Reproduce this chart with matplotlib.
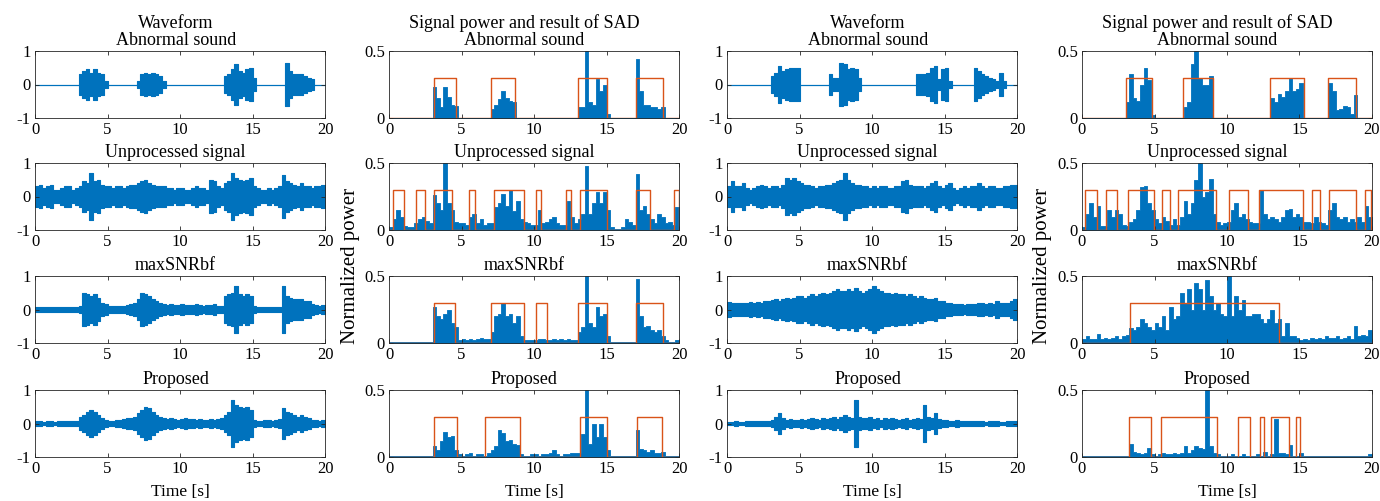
import matplotlib

matplotlib.use("Agg")

import matplotlib.pyplot as plt
import numpy as np

plt.rcParams["font.family"] = ["Liberation Serif", "DejaVu Serif"]
plt.rcParams["axes.unicode_minus"] = False

BLUE = "#0072BD"
ORANGE = "#D95319"
BIN = 0.25  # seconds per value below, 80 values per 20 s

ROW_TITLES = ["Abnormal sound", "Unprocessed signal", "maxSNRbf", "Proposed"]
X_TICKS = [0, 5, 10, 15, 20]
X_TICK_LABELS = ["0", "5", "10", "15", "20"]
WAVE_TICKS = [-1, 0, 1]
WAVE_TICK_LABELS = ["-1", "0", "1"]
POW_TICKS = [0, 0.5]
POW_TICK_LABELS = ["0", "0.5"]
SAD_LEVEL = 0.3

# ---- sound A (columns 1 and 2): waveform envelope, power peaks, SAD intervals
A_WAVE_ABN = [
    0, 0, 0, 0, 0, 0, 0, 0, 0, 0, 0, 0, 0.3, 0.4, 0.45, 0.35, 0.45, 0.35, 0.3, 0.1,
    0, 0, 0, 0, 0, 0, 0, 0, 0.1, 0.3, 0.35, 0.3, 0.35, 0.3, 0.25, 0.1, 0, 0, 0, 0,
    0, 0, 0, 0, 0, 0, 0, 0, 0, 0, 0, 0, 0.25, 0.3, 0.45, 0.6, 0.4, 0.35, 0.45, 0.5,
    0.2, 0, 0, 0, 0, 0, 0, 0, 0, 0.65, 0.4, 0.3, 0.3, 0.3, 0.25, 0.2, 0.15, 0, 0, 0,
]
A_POW_ABN = [
    0, 0, 0, 0, 0, 0, 0, 0, 0, 0, 0, 0, 0.23, 0.15, 0.08, 0.23, 0.16, 0.1, 0.09, 0,
    0, 0, 0, 0, 0, 0, 0, 0, 0.07, 0.1, 0.14, 0.2, 0.15, 0.13, 0.12, 0, 0, 0, 0, 0,
    0, 0, 0, 0, 0, 0, 0, 0, 0, 0, 0, 0, 0.08, 0.08, 0.5, 0.12, 0.1, 0.29, 0.2, 0.25,
    0.03, 0, 0, 0, 0, 0, 0, 0, 0.44, 0.2, 0.1, 0.1, 0.08, 0.08, 0.07, 0.08, 0, 0, 0, 0,
]
A_SAD_ABN = [(3.1, 4.6), (7.0, 8.7), (13.0, 15.05), (17.05, 18.9)]

A_WAVE_UNP = [
    0.3, 0.35, 0.25, 0.3, 0.35, 0.2, 0.2, 0.25, 0.3, 0.3, 0.2, 0.25, 0.3, 0.45, 0.4, 0.7, 0.45, 0.5, 0.35, 0.3,
    0.3, 0.25, 0.3, 0.3, 0.25, 0.3, 0.35, 0.35, 0.4, 0.45, 0.5, 0.4, 0.35, 0.3, 0.3, 0.3, 0.25, 0.25, 0.2, 0.25,
    0.25, 0.2, 0.2, 0.25, 0.3, 0.25, 0.25, 0.2, 0.5, 0.45, 0.3, 0.25, 0.4, 0.45, 0.7, 0.55, 0.5, 0.45, 0.5, 0.55,
    0.3, 0.25, 0.2, 0.2, 0.25, 0.2, 0.25, 0.3, 0.65, 0.45, 0.4, 0.35, 0.3, 0.4, 0.3, 0.3, 0.25, 0.3, 0.3, 0.35,
]
A_POW_UNP = [
    0.02, 0.08, 0.15, 0.1, 0.03, 0.02, 0.02, 0.05, 0.08, 0.1, 0.07, 0.05, 0.26, 0.2, 0.15, 0.5, 0.2, 0.15, 0.06, 0.05,
    0.05, 0.04, 0.1, 0.12, 0.05, 0.08, 0.04, 0.05, 0.05, 0.17, 0.2, 0.27, 0.18, 0.3, 0.14, 0.22, 0.08, 0.06, 0.05, 0.04,
    0.04, 0.15, 0.05, 0.06, 0.08, 0.1, 0.05, 0.04, 0.04, 0.22, 0.1, 0.05, 0.08, 0.12, 0.48, 0.12, 0.2, 0.28, 0.2, 0.28,
    0.15, 0.02, 0.01, 0.01, 0.02, 0.08, 0.06, 0.04, 0.42, 0.15, 0.18, 0.12, 0.08, 0.05, 0.12, 0.1, 0.05, 0.06, 0.04, 0.17,
]
A_SAD_UNP = [(0.28, 1.03), (1.84, 2.46), (3.08, 4.37), (5.52, 5.95), (7.24, 9.31),
             (10.16, 10.5), (12.23, 12.57), (13.15, 15.06), (17.06, 17.98), (19.63, 20.0)]

A_WAVE_MAX = [
    0.08, 0.08, 0.08, 0.08, 0.07, 0.08, 0.07, 0.08, 0.08, 0.07, 0.08, 0.08, 0.1, 0.5, 0.45, 0.4, 0.45, 0.35, 0.2, 0.15,
    0.1, 0.1, 0.1, 0.1, 0.1, 0.12, 0.15, 0.2, 0.3, 0.5, 0.45, 0.4, 0.3, 0.25, 0.2, 0.15, 0.12, 0.15, 0.12, 0.12,
    0.15, 0.12, 0.12, 0.12, 0.15, 0.12, 0.1, 0.12, 0.12, 0.15, 0.1, 0.1, 0.4, 0.45, 0.5, 0.7, 0.45, 0.4, 0.45, 0.4,
    0.1, 0.07, 0.07, 0.07, 0.07, 0.07, 0.07, 0.08, 0.7, 0.4, 0.35, 0.3, 0.3, 0.3, 0.25, 0.25, 0.15, 0.12, 0.1, 0.12,
]
A_POW_MAX = [
    0.01, 0.01, 0.01, 0.01, 0.01, 0.01, 0.01, 0.01, 0.01, 0.01, 0.01, 0.01, 0.27, 0.2, 0.18, 0.22, 0.25, 0.15, 0.12, 0.02,
    0.03, 0.02, 0.03, 0.02, 0.03, 0.04, 0.03, 0.03, 0.08, 0.2, 0.22, 0.3, 0.2, 0.22, 0.15, 0.2, 0.05, 0.02, 0.02, 0.02,
    0.02, 0.03, 0.03, 0.02, 0.02, 0.03, 0.02, 0.03, 0.02, 0.03, 0.02, 0.02, 0.08, 0.12, 0.5, 0.15, 0.12, 0.27, 0.2, 0.22,
    0.05, 0.005, 0.005, 0.005, 0.005, 0.005, 0.005, 0.005, 0.48, 0.2, 0.12, 0.13, 0.1, 0.08, 0.1, 0.05, 0.02, 0.01, 0.01, 0.02,
]
A_SAD_MAX = [(3.08, 4.57), (7.0, 9.31), (10.14, 10.9), (13.06, 15.06), (17.06, 18.9)]

A_WAVE_PROP = [
    0.06, 0.06, 0.05, 0.06, 0.06, 0.05, 0.06, 0.06, 0.06, 0.07, 0.06, 0.06, 0.2, 0.25, 0.35, 0.4, 0.35, 0.25, 0.15, 0.1,
    0.08, 0.08, 0.1, 0.1, 0.12, 0.15, 0.15, 0.2, 0.3, 0.4, 0.5, 0.45, 0.35, 0.25, 0.2, 0.15, 0.12, 0.15, 0.12, 0.1,
    0.12, 0.15, 0.12, 0.12, 0.1, 0.12, 0.1, 0.1, 0.12, 0.1, 0.12, 0.15, 0.25, 0.35, 0.7, 0.55, 0.5, 0.45, 0.5, 0.4,
    0.1, 0.08, 0.08, 0.1, 0.1, 0.08, 0.1, 0.12, 0.45, 0.35, 0.3, 0.25, 0.2, 0.25, 0.2, 0.15, 0.1, 0.1, 0.08, 0.1,
]
A_POW_PROP = [
    0.005, 0.005, 0.005, 0.005, 0.005, 0.005, 0.005, 0.005, 0.005, 0.005, 0.005, 0.005, 0.08, 0.05, 0.12, 0.19, 0.15, 0.16, 0.05, 0.02,
    0.01, 0.02, 0.03, 0.01, 0.02, 0.02, 0.01, 0.03, 0.05, 0.08, 0.2, 0.18, 0.12, 0.13, 0.1, 0.09, 0.02, 0.01, 0.01, 0.02,
    0.02, 0.01, 0.02, 0.02, 0.03, 0.05, 0.02, 0.01, 0.02, 0.02, 0.03, 0.03, 0.03, 0.17, 0.5, 0.1, 0.25, 0.15, 0.25, 0.15,
    0.05, 0.01, 0.005, 0.005, 0.005, 0.005, 0.005, 0.005, 0.2, 0.06, 0.05, 0.04, 0.05, 0.03, 0.03, 0.04, 0.01, 0.01, 0.01, 0.01,
]
A_SAD_PROP = [(3.08, 4.71), (6.64, 9.03), (13.15, 15.03), (17.08, 18.8)]

# ---- sound B (columns 3 and 4)
B_WAVE_ABN = [
    0, 0, 0, 0, 0, 0, 0, 0, 0, 0, 0, 0, 0.25, 0.35, 0.55, 0.4, 0.45, 0.5, 0.5, 0.5,
    0, 0, 0, 0, 0, 0, 0, 0, 0.3, 0.2, 0.2, 0.65, 0.6, 0.45, 0.5, 0.45, 0.2, 0, 0, 0,
    0, 0, 0, 0, 0, 0, 0, 0, 0, 0, 0, 0, 0.3, 0.3, 0.3, 0.35, 0.5, 0.55, 0.15, 0.45,
    0.5, 0.1, 0, 0, 0, 0, 0, 0, 0.5, 0.4, 0.3, 0.25, 0.2, 0.15, 0.1, 0.35, 0.1, 0, 0, 0,
]
B_POW_ABN = [
    0, 0, 0, 0, 0, 0, 0, 0, 0, 0, 0, 0, 0.12, 0.33, 0.15, 0.13, 0.25, 0.37, 0.28, 0.02,
    0, 0, 0, 0, 0, 0, 0, 0, 0.08, 0.12, 0.4, 0.5, 0.3, 0.25, 0.25, 0.31, 0, 0, 0, 0,
    0, 0, 0, 0, 0, 0, 0, 0, 0, 0, 0, 0, 0.15, 0.12, 0.18, 0.16, 0.2, 0.3, 0.2, 0.22,
    0.26, 0, 0, 0, 0, 0, 0, 0, 0.26, 0.2, 0.06, 0.07, 0.09, 0.08, 0.03, 0.17, 0, 0, 0, 0,
]
B_SAD_ABN = [(3.05, 4.8), (6.95, 9.0), (13.0, 15.3), (17.0, 18.9)]

B_WAVE_UNP = [
    0.3, 0.45, 0.3, 0.3, 0.4, 0.25, 0.2, 0.25, 0.3, 0.35, 0.3, 0.25, 0.3, 0.3, 0.25, 0.35, 0.55, 0.5, 0.55, 0.45,
    0.4, 0.35, 0.35, 0.3, 0.25, 0.3, 0.3, 0.35, 0.35, 0.4, 0.45, 0.5, 0.7, 0.5, 0.4, 0.35, 0.35, 0.3, 0.3, 0.25,
    0.3, 0.25, 0.3, 0.3, 0.25, 0.25, 0.3, 0.3, 0.45, 0.5, 0.35, 0.3, 0.3, 0.3, 0.25, 0.3, 0.4, 0.45, 0.3, 0.25,
    0.35, 0.4, 0.25, 0.2, 0.25, 0.3, 0.25, 0.3, 0.3, 0.4, 0.3, 0.25, 0.3, 0.3, 0.25, 0.25, 0.3, 0.3, 0.35, 0.35,
]
B_POW_UNP = [
    0.02, 0.12, 0.2, 0.1, 0.18, 0.03, 0.03, 0.15, 0.1, 0.15, 0.12, 0.04, 0.03, 0.06, 0.08, 0.15, 0.32, 0.33, 0.2, 0.15,
    0.08, 0.05, 0.1, 0.07, 0.04, 0.08, 0.04, 0.1, 0.22, 0.12, 0.2, 0.37, 0.5, 0.25, 0.28, 0.38, 0.12, 0.06, 0.04, 0.05,
    0.06, 0.15, 0.2, 0.1, 0.12, 0.08, 0.06, 0.05, 0.05, 0.3, 0.12, 0.08, 0.1, 0.08, 0.06, 0.1, 0.15, 0.16, 0.1, 0.12,
    0.1, 0.06, 0.06, 0.05, 0.1, 0.06, 0.05, 0.04, 0.15, 0.2, 0.1, 0.08, 0.1, 0.06, 0.08, 0.06, 0.1, 0.06, 0.18, 0.1,
]
B_SAD_UNP = [(0.18, 1.03), (1.68, 2.41), (3.15, 4.94), (5.52, 6.09), (6.62, 9.26),
             (10.14, 11.45), (12.23, 15.24), (15.86, 16.39), (17.01, 18.92), (19.54, 19.93)]

B_WAVE_MAX = [
    0.22, 0.2, 0.18, 0.2, 0.2, 0.18, 0.22, 0.2, 0.22, 0.2, 0.25, 0.25, 0.28, 0.3, 0.25, 0.3, 0.35, 0.3, 0.35, 0.4,
    0.4, 0.35, 0.4, 0.45, 0.4, 0.45, 0.5, 0.45, 0.5, 0.55, 0.6, 0.55, 0.55, 0.6, 0.55, 0.65, 0.55, 0.5, 0.55, 0.6,
    0.7, 0.6, 0.55, 0.5, 0.5, 0.45, 0.5, 0.45, 0.45, 0.4, 0.45, 0.4, 0.35, 0.4, 0.35, 0.3, 0.3, 0.35, 0.25, 0.25,
    0.2, 0.2, 0.15, 0.15, 0.15, 0.12, 0.15, 0.15, 0.15, 0.2, 0.2, 0.15, 0.2, 0.15, 0.25, 0.2, 0.2, 0.2, 0.25, 0.3,
]
B_POW_MAX = [
    0.03, 0.05, 0.03, 0.03, 0.07, 0.03, 0.04, 0.03, 0.04, 0.05, 0.03, 0.05, 0.06, 0.11, 0.1, 0.12, 0.18, 0.15, 0.12, 0.1,
    0.15, 0.12, 0.2, 0.1, 0.27, 0.18, 0.2, 0.37, 0.3, 0.4, 0.25, 0.45, 0.4, 0.25, 0.47, 0.35, 0.25, 0.3, 0.22, 0.2,
    0.5, 0.2, 0.35, 0.25, 0.32, 0.2, 0.2, 0.22, 0.22, 0.18, 0.15, 0.18, 0.25, 0.15, 0.18, 0.05, 0.15, 0.05, 0.05, 0.04,
    0.02, 0.03, 0.02, 0.04, 0.03, 0.04, 0.03, 0.05, 0.04, 0.04, 0.05, 0.03, 0.04, 0.05, 0.03, 0.13, 0.05, 0.06, 0.05, 0.1,
]
B_SAD_MAX = [(3.29, 13.6)]

B_WAVE_PROP = [
    0.05, 0.05, 0.06, 0.05, 0.05, 0.06, 0.07, 0.06, 0.08, 0.07, 0.06, 0.08, 0.1, 0.2, 0.3, 0.15, 0.1, 0.12, 0.1, 0.1,
    0.12, 0.1, 0.12, 0.15, 0.12, 0.1, 0.15, 0.12, 0.15, 0.2, 0.12, 0.2, 0.25, 0.2, 0.15, 0.7, 0.2, 0.15, 0.15, 0.2,
    0.12, 0.15, 0.1, 0.15, 0.12, 0.15, 0.12, 0.1, 0.12, 0.15, 0.1, 0.12, 0.15, 0.12, 0.55, 0.2, 0.15, 0.3, 0.12, 0.1,
    0.1, 0.08, 0.08, 0.1, 0.08, 0.06, 0.08, 0.06, 0.06, 0.07, 0.06, 0.05, 0.06, 0.07, 0.06, 0.05, 0.05, 0.06, 0.06, 0.07,
]
B_POW_PROP = [
    0.005, 0.005, 0.005, 0.005, 0.005, 0.005, 0.005, 0.005, 0.005, 0.005, 0.005, 0.005, 0.005, 0.1, 0.04, 0.03, 0.02, 0.03, 0.07, 0.02,
    0.01, 0.02, 0.03, 0.02, 0.02, 0.03, 0.02, 0.03, 0.08, 0.03, 0.05, 0.08, 0.07, 0.06, 0.5, 0.08, 0.03, 0.02, 0.01, 0.01,
    0.01, 0.02, 0.01, 0.01, 0.02, 0.01, 0.01, 0.01, 0.02, 0.01, 0.04, 0.01, 0.02, 0.28, 0.03, 0.03, 0.02, 0.09, 0.01, 0.01,
    0.03, 0.01, 0.005, 0.005, 0.005, 0.005, 0.005, 0.005, 0.005, 0.005, 0.005, 0.01, 0.005, 0.005, 0.005, 0.005, 0.005, 0.005, 0.005, 0.02,
]
B_SAD_PROP = [(3.22, 4.76), (5.45, 9.31), (10.76, 11.6), (12.25, 12.53), (13.03, 14.25), (14.78, 15.06)]

WAVES_A = [A_WAVE_ABN, A_WAVE_UNP, A_WAVE_MAX, A_WAVE_PROP]
POWS_A = [A_POW_ABN, A_POW_UNP, A_POW_MAX, A_POW_PROP]
SADS_A = [A_SAD_ABN, A_SAD_UNP, A_SAD_MAX, A_SAD_PROP]
WAVES_B = [B_WAVE_ABN, B_WAVE_UNP, B_WAVE_MAX, B_WAVE_PROP]
POWS_B = [B_POW_ABN, B_POW_UNP, B_POW_MAX, B_POW_PROP]
SADS_B = [B_SAD_ABN, B_SAD_UNP, B_SAD_MAX, B_SAD_PROP]

# layout in pixels of the 1380x501 figure
W, H = 1380, 501
COL_LEFT = [35, 389, 727, 1082]
COL_W = 290
ROW_TOP = [51, 163, 276, 390]
ROW_H = 67


def steps(values):
    v = np.asarray(values, dtype=float)
    t = np.arange(len(v) + 1) * BIN
    return t, np.append(v, v[-1])


def sad_curve(intervals):
    xs, ys = [0.0], [0.0]
    for s, e in intervals:
        xs += [s, s, e, e]
        ys += [0, SAD_LEVEL, SAD_LEVEL, 0]
    xs.append(20.0)
    ys.append(0.0)
    return xs, ys


def style(ax, wave, bottom):
    ax.set_xlim(0, 20)
    ax.set_xticks(X_TICKS)
    ax.set_xticklabels(X_TICK_LABELS)
    if wave:
        ax.set_ylim(-1, 1)
        ax.set_yticks(WAVE_TICKS)
        ax.set_yticklabels(WAVE_TICK_LABELS)
    else:
        ax.set_ylim(0, 0.5)
        ax.set_yticks(POW_TICKS)
        ax.set_yticklabels(POW_TICK_LABELS)
    ax.tick_params(direction="in", top=True, right=True, length=3, width=0.6,
                   labelsize=12, pad=3, colors="#262626", labelcolor="black")
    for sp in ax.spines.values():
        sp.set_color("#262626")
        sp.set_linewidth(0.6)
    if bottom:
        ax.set_xlabel("Time [s]", fontsize=12.5, labelpad=5)


fig = plt.figure(figsize=(W / 100, H / 100), dpi=100)

for col in range(4):
    sound_b = col >= 2
    wave = col % 2 == 0
    for row in range(4):
        left = COL_LEFT[col] / W
        bottom = (H - ROW_TOP[row] - ROW_H) / H
        ax = fig.add_axes([left, bottom, COL_W / W, ROW_H / H])
        if wave:
            a = (WAVES_B if sound_b else WAVES_A)[row]
            t, v = steps(a)
            ax.fill_between(t, -v, v, step="post", color=BLUE, lw=0.8)
        else:
            p = (POWS_B if sound_b else POWS_A)[row]
            t, v = steps(p)
            ax.fill_between(t, 0, v, step="post", color=BLUE, lw=0.6)
            xs, ys = sad_curve((SADS_B if sound_b else SADS_A)[row])
            ax.plot(xs, ys, color=ORANGE, lw=1.0)
        title = ROW_TITLES[row]
        if row == 0:
            head = "Waveform" if wave else "Signal power and result of SAD"
            title = head + "\n" + title
        t_obj = ax.set_title(title, fontsize=13, pad=4, linespacing=1.0)
        t_obj.set_x(0.485 if wave else 0.465)
        style(ax, wave, row == 3)

for x in (350, 1042):
    fig.text(x / W, 1 - 266 / H, "Normalized power", rotation=90,
             ha="center", va="center", fontsize=15)

fig.savefig("out.png", dpi=100)
